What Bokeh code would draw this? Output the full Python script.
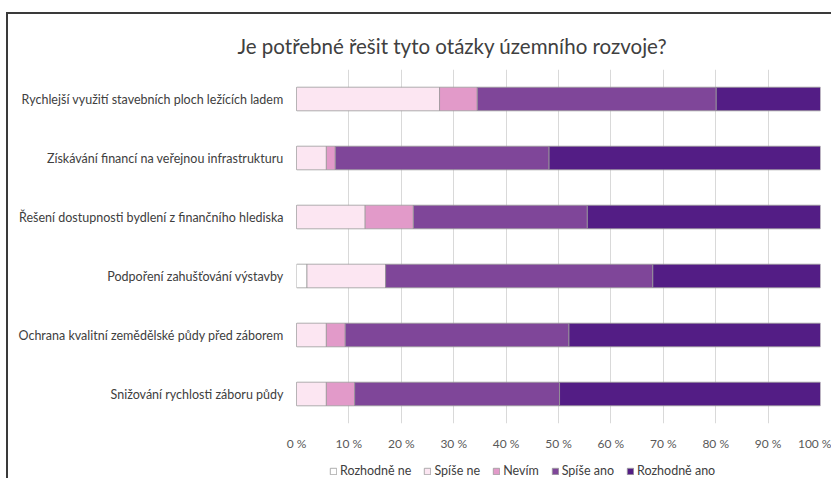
from bokeh.plotting import figure
from bokeh.layouts import column
from bokeh.models import (ColumnDataSource, FactorRange, Legend, LegendItem,
                          FixedTicker, Range1d)
from bokeh.embed import file_html
from bokeh.resources import INLINE

# ---- data -------------------------------------------------------------
categories = [
    "Rychlejší využití stavebních ploch ležících ladem",
    "Získávání financí na veřejnou infrastrukturu",
    "Řešení dostupnosti bydlení z finančního hlediska",
    "Podpoření zahušťování výstavby",
    "Ochrana kvalitní zemědělské půdy před záborem",
    "Snižování rychlosti záboru půdy",
]
levels = ["Rozhodně ne", "Spíše ne", "Nevím", "Spíše ano", "Rozhodně ano"]
rozhodne_ne = [0.0, 0.0, 0.0, 2.0, 0.0, 0.0]
spise_ne = [27.3, 5.7, 13.1, 15.0, 5.7, 5.7]
nevim = [7.2, 1.7, 9.2, 0.0, 3.6, 5.4]
spise_ano = [45.6, 40.8, 33.2, 51.0, 42.7, 39.1]
rozhodne_ano = [19.9, 51.8, 44.5, 32.0, 48.0, 49.8]
x_ticks = [0, 10, 20, 30, 40, 50, 60, 70, 80, 90, 100]
tick_labels = ["0 %", "10 %", "20 %", "30 %", "40 %", "50 %", "60 %", "70 %", "80 %", "90 %", "100 %"]
title_text = "Je potřebné řešit tyto otázky územního  rozvoje?"

colors = ["#ffffff", "#fce6f2", "#e29ac9", "#7f4699", "#531d85"]
keys = ["r_ne", "s_ne", "nevim", "s_ano", "r_ano"]

src = ColumnDataSource(dict(cat=categories, r_ne=rozhodne_ne, s_ne=spise_ne,
                            nevim=nevim, s_ano=spise_ano, r_ano=rozhodne_ano))

FONT = "Lato"
OUTLINE = "#9a9a9a"

# ---- main chart -------------------------------------------------------
p = figure(width=823, height=439,
           y_range=FactorRange(*categories[::-1]), x_range=Range1d(0, 100),
           output_backend="svg", toolbar_location=None,
           min_border_left=288, min_border_right=11,
           min_border_top=55, min_border_bottom=28,
           title=title_text)

renderers = p.hbar_stack(keys, y="cat", height=0.4, fill_color=colors,
                         line_color=OUTLINE, line_width=0.8, source=src)

p.title.align = "left"
p.title.offset = -59
p.title.standoff = 23
p.title.text_font = FONT
p.title.text_font_size = "20.5px"
p.title.text_font_style = "normal"
p.title.text_color = "#404040"

p.xaxis.ticker = FixedTicker(ticks=x_ticks)
p.xaxis.major_label_overrides = {t: l for t, l in zip(x_ticks, tick_labels)}
p.xaxis.axis_line_color = None
p.xaxis.major_tick_line_color = None
p.xaxis.minor_tick_line_color = None
p.xaxis.major_label_text_font = FONT
p.xaxis.major_label_text_font_size = "12px"
p.xaxis.major_label_text_color = "#595959"
p.xaxis.major_label_standoff = 6

p.yaxis.axis_line_color = None
p.yaxis.major_tick_line_color = None
p.yaxis.minor_tick_line_color = None
p.yaxis.major_label_text_font = FONT
p.yaxis.major_label_text_font_size = "12.5px"
p.yaxis.major_label_text_color = "#404040"
p.yaxis.major_label_standoff = 7

p.ygrid.grid_line_color = None
p.xgrid.ticker = FixedTicker(ticks=x_ticks)
p.xgrid.grid_line_color = "#d9d9d9"
p.outline_line_color = None

# ---- legend strip (frame aligned with the main chart's frame) ---------
pl = figure(width=823, height=25, x_range=Range1d(0, 1), y_range=Range1d(0, 1),
            output_backend="svg", toolbar_location=None, min_border=0)
pl.axis.visible = False
pl.grid.grid_line_color = None
pl.outline_line_color = None
# legend swatch renderers: one point each, placed outside the visible range
leg_renderers = [pl.rect(x=[-5], y=[-5], width=0.1, height=0.1, fill_color=c,
                         line_color=OUTLINE, line_width=0.8) for c in colors]
legend = Legend(items=[LegendItem(label=l, renderers=[r]) for l, r in zip(levels, leg_renderers)],
                orientation="horizontal", location=(33, 0),
                border_line_color=None, background_fill_alpha=0,
                label_text_font=FONT, label_text_font_size="12.5px",
                label_text_color="#404040",
                glyph_width=8, glyph_height=8, label_standoff=3, spacing=12,
                padding=0, margin=0)
pl.add_layout(legend, "center")

layout = column(p, pl, spacing=0,
                styles={"margin-left": "6px", "margin-top": "12px",
                        "border-left": "2px solid #3a3a3a",
                        "border-top": "2px solid #3a3a3a"})

open("out.html", "w").write(file_html(layout, INLINE))
